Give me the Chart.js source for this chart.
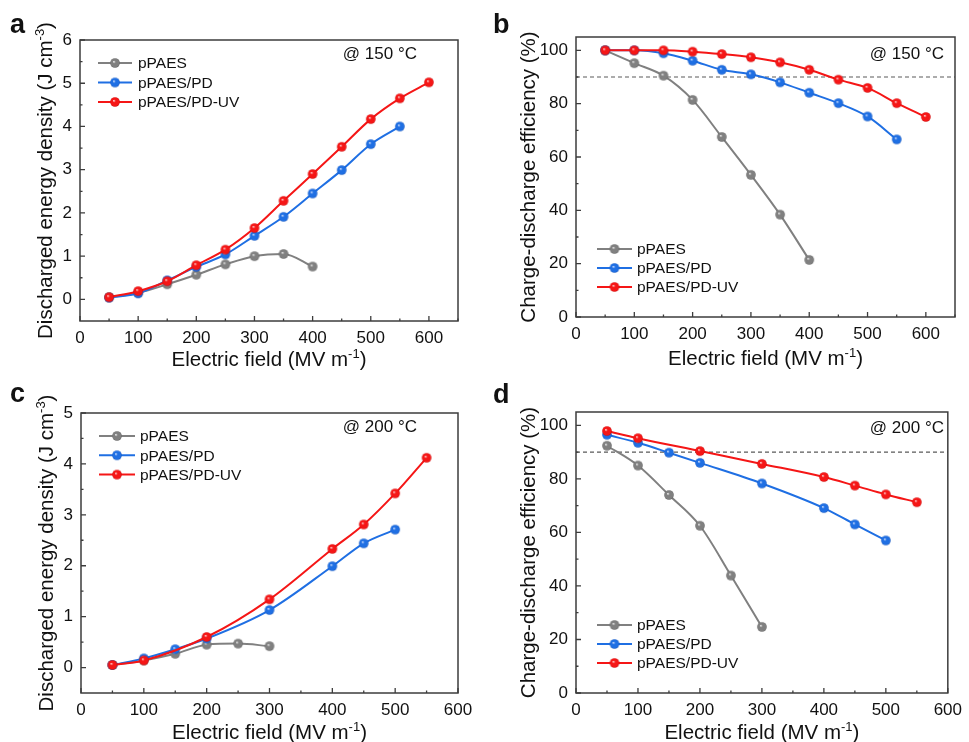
<!DOCTYPE html>
<html><head><meta charset="utf-8">
<script src="https://cdn.jsdelivr.net/npm/chart.js@4"></script>
<style>
body{margin:0;background:#fff;width:969px;height:742px;position:relative;overflow:hidden}
canvas{position:absolute}
</style></head><body>
<canvas id="ca" width="484" height="370" style="left:0;top:0"></canvas>
<canvas id="cb" width="484" height="370" style="left:485px;top:0"></canvas>
<canvas id="cc" width="484" height="372" style="left:0;top:370px"></canvas>
<canvas id="cd" width="484" height="372" style="left:485px;top:370px"></canvas>
<script>
// ---------- data ----------
const seriesNames = ['pPAES', 'pPAES/PD', 'pPAES/PD-UV'];
const xTicks = [0, 100, 200, 300, 400, 500, 600];
const yTicksEnergyA = [0, 1, 2, 3, 4, 5, 6];
const yTicksEnergyC = [0, 1, 2, 3, 4, 5];
const yTicksEff = [0, 20, 40, 60, 80, 100];

// Panel a: discharged energy density @150 °C
const fieldA_pPAES = [50, 100, 150, 200, 250, 300, 350, 400];
const energyA_pPAES = [0.05, 0.15, 0.35, 0.57, 0.81, 1.00, 1.05, 0.76];
const fieldA_PD = [50, 100, 150, 200, 250, 300, 350, 400, 450, 500, 550];
const energyA_PD = [0.04, 0.14, 0.44, 0.75, 1.04, 1.47, 1.91, 2.45, 2.99, 3.59, 4.00];
const fieldA_UV = [50, 100, 150, 200, 250, 300, 350, 400, 450, 500, 550, 600];
const energyA_UV = [0.05, 0.19, 0.42, 0.79, 1.15, 1.65, 2.28, 2.90, 3.53, 4.17, 4.65, 5.02];

// Panel b: charge-discharge efficiency @150 °C
const fieldB_pPAES = [50, 100, 150, 200, 250, 300, 350, 400];
const effB_pPAES = [100, 95.2, 90.5, 81.4, 67.5, 53.3, 38.4, 21.4];
const fieldB_PD = [50, 100, 150, 200, 250, 300, 350, 400, 450, 500, 550];
const effB_PD = [100, 100, 98.9, 96.1, 92.7, 91.0, 88.0, 84.1, 80.2, 75.2, 66.6];
const fieldB_UV = [50, 100, 150, 200, 250, 300, 350, 400, 450, 500, 550, 600];
const effB_UV = [100, 100, 100, 99.5, 98.6, 97.4, 95.5, 92.7, 89.0, 85.9, 80.2, 75.0];

// Panel c: discharged energy density @200 °C
const fieldC_pPAES = [50, 100, 150, 200, 250, 300];
const energyC_pPAES = [0.05, 0.14, 0.27, 0.45, 0.47, 0.42];
const fieldC_PD = [50, 100, 150, 200, 300, 400, 450, 500];
const energyC_PD = [0.05, 0.18, 0.36, 0.57, 1.13, 1.99, 2.44, 2.71];
const fieldC_UV = [50, 100, 200, 300, 400, 450, 500, 550];
const energyC_UV = [0.05, 0.14, 0.60, 1.34, 2.33, 2.81, 3.42, 4.12];

// Panel d: charge-discharge efficiency @200 °C
const fieldD_pPAES = [50, 100, 150, 200, 250, 300];
const effD_pPAES = [92.4, 85.0, 74.0, 62.5, 43.9, 24.7];
const fieldD_PD = [50, 100, 150, 200, 300, 400, 450, 500];
const effD_PD = [96.5, 93.5, 89.8, 86.0, 78.3, 69.1, 63.0, 57.0];
const fieldD_UV = [50, 100, 200, 300, 400, 450, 500, 550];
const effD_UV = [97.9, 95.2, 90.4, 85.6, 80.7, 77.5, 74.2, 71.3];

const efficiencyThreshold = 90;

// ---------- styling ----------
const FAM = '"Liberation Sans", Arial, sans-serif';
const COLORS = ['#808080', '#1f6fe3', '#f51616'];
const DARK = ['#5e5e5e', '#1452b8', '#c80a0a'];
const LIGHT = ['#e8e8e8', '#cfe0ff', '#ffd0d0'];

function sphere(i) {
  const c = document.createElement('canvas');
  c.width = 12; c.height = 12;
  const g = c.getContext('2d');
  const grad = g.createRadialGradient(4.8, 4.6, 0.2, 6, 6, 5);
  grad.addColorStop(0, LIGHT[i]);
  grad.addColorStop(0.3, COLORS[i]);
  grad.addColorStop(0.8, COLORS[i]);
  grad.addColorStop(1, DARK[i]);
  g.fillStyle = grad;
  g.beginPath(); g.arc(6, 6, 4.8, 0, Math.PI * 2); g.fill();
  return c;
}
const SPHERES = [sphere(0), sphere(1), sphere(2)];

function pts(xs, ys) { return xs.map((x, i) => ({ x: x, y: ys[i] })); }

function drawRich(ctx, parts, size, x, y, rot) {
  ctx.save();
  ctx.translate(x, y);
  if (rot) ctx.rotate(-Math.PI / 2);
  ctx.fillStyle = '#111';
  ctx.textAlign = 'left';
  ctx.textBaseline = 'alphabetic';
  const sup = Math.round(size * 0.62);
  let total = 0;
  const ws = parts.map(p => { ctx.font = (p.sup ? sup : size) + 'px ' + FAM; const w = ctx.measureText(p.t).width; total += w; return w; });
  let cx = -total / 2;
  const base = size * 0.36;
  parts.forEach((p, i) => {
    ctx.font = (p.sup ? sup : size) + 'px ' + FAM;
    ctx.fillText(p.t, cx, p.sup ? base - size * 0.42 : base);
    cx += ws[i];
  });
  ctx.restore();
}

const decor = {
  id: 'decor',
  beforeDatasetsDraw(chart) {
    const o = chart.options.plugins.decor;
    const ctx = chart.ctx, a = chart.chartArea, ys = chart.scales.y;
    if (o.threshold != null) {
      const py = ys.getPixelForValue(o.threshold);
      ctx.save();
      ctx.strokeStyle = '#5a5a5a'; ctx.lineWidth = 1.2; ctx.setLineDash([4, 3]);
      ctx.beginPath(); ctx.moveTo(a.left, py); ctx.lineTo(a.right, py); ctx.stroke();
      ctx.restore();
    }
  },
  afterDraw(chart) {
    const o = chart.options.plugins.decor;
    const ctx = chart.ctx, a = chart.chartArea, xs = chart.scales.x, ys = chart.scales.y;
    ctx.save();
    ctx.strokeStyle = '#3c3c3c'; ctx.lineWidth = 1.5;
    ctx.strokeRect(a.left, a.top, a.right - a.left, a.bottom - a.top);
    ctx.lineWidth = 1.3;
    ctx.beginPath();
    for (let v = xs.min; v <= xs.max + 1e-9; v += 50) {
      const px = xs.getPixelForValue(v);
      const major = Math.abs(v % 100) < 1e-6;
      ctx.moveTo(px, a.bottom); ctx.lineTo(px, a.bottom - (major ? 5 : 2.5));
    }
    const step = o.yStep;
    for (let v = o.yTicks[0]; v <= ys.max + 1e-9; v += step / 2) {
      const py = ys.getPixelForValue(v);
      const major = Math.abs((v / step) - Math.round(v / step)) < 1e-6;
      ctx.moveTo(a.left, py); ctx.lineTo(a.left + (major ? 5 : 2.5), py);
    }
    ctx.stroke();
    // axis titles
    drawRich(ctx, [{ t: 'Electric field (MV m' }, { t: '-1', sup: true }, { t: ')' }], 20.5, (a.left + a.right) / 2, o.xTitleY, false);
    drawRich(ctx, o.yTitle, 20.5, o.yTitleX, (a.top + a.bottom) / 2, true);
    // panel letter
    ctx.fillStyle = '#111';
    ctx.font = 'bold 27px ' + FAM;
    ctx.textAlign = 'left'; ctx.textBaseline = 'alphabetic';
    ctx.fillText(o.letter, o.letterX, o.letterY);
    // temperature note
    ctx.font = '17px ' + FAM;
    ctx.textAlign = 'right'; ctx.textBaseline = 'middle';
    ctx.fillText(o.note, o.noteX, o.noteY);
    // legend
    const L = o.legend;
    chart.data.datasets.forEach((ds, i) => {
      const y = L.y + i * L.dy;
      ctx.strokeStyle = ds.borderColor; ctx.lineWidth = 2;
      ctx.beginPath(); ctx.moveTo(L.x0, y); ctx.lineTo(L.x1, y); ctx.stroke();
      ctx.drawImage(SPHERES[i], (L.x0 + L.x1) / 2 - 6, y - 6);
      ctx.fillStyle = '#111'; ctx.font = '15.5px ' + FAM;
      ctx.textAlign = 'left'; ctx.textBaseline = 'middle';
      ctx.fillText(ds.label, L.tx, y + 1);
    });
    ctx.restore();
  }
};

function makeChart(id, p) {
  const datasets = p.series.map((s, i) => ({
    label: seriesNames[i],
    data: pts(s[0], s[1]),
    order: 2 - i,
    borderColor: COLORS[i],
    backgroundColor: COLORS[i],
    borderWidth: 2,
    pointStyle: SPHERES[i],
    pointRadius: 6,
    cubicInterpolationMode: 'monotone',
    clip: 8
  }));
  return new Chart(document.getElementById(id), {
    type: 'line',
    data: { datasets },
    plugins: [decor],
    options: {
      responsive: false, animation: false, events: [],
      layout: { padding: { top: p.top, right: p.right, left: 0, bottom: 0 } },
      plugins: {
        legend: { display: false }, tooltip: { enabled: false },
        decor: p.decor
      },
      scales: {
        x: {
          type: 'linear', min: 0, max: p.xMax,
          grid: { display: false, drawTicks: false }, border: { display: false },
          ticks: { font: { size: 17, family: FAM }, color: '#111', padding: 7, maxRotation: 0 },
          afterBuildTicks: sc => { sc.ticks = xTicks.filter(v => v <= p.xMax).map(v => ({ value: v })); },
          afterFit: sc => { sc.height = p.bottom; }
        },
        y: {
          type: 'linear', min: p.yMin, max: p.yMax,
          grid: { display: false, drawTicks: false }, border: { display: false },
          ticks: { font: { size: 17, family: FAM }, color: '#111', padding: 8 },
          afterBuildTicks: sc => { sc.ticks = p.yTicks.map(v => ({ value: v })); },
          afterFit: sc => { sc.width = p.left; }
        }
      }
    }
  });
}

const energyTitle = [{ t: 'Discharged energy density (J cm' }, { t: '-3', sup: true }, { t: ')' }];
const effTitle = [{ t: 'Charge-discharge efficiency (%)' }];

makeChart('ca', {
  series: [[fieldA_pPAES, energyA_pPAES], [fieldA_PD, energyA_PD], [fieldA_UV, energyA_UV]],
  top: 40, right: 26, left: 80, bottom: 49, xMax: 650, yMin: -0.5, yMax: 6, yTicks: yTicksEnergyA,
  decor: { yTicks: yTicksEnergyA, yStep: 1, letter: 'a', letterX: 10, letterY: 33, note: '@ 150 °C', noteX: 417, noteY: 54,
    xTitleY: 359, yTitle: energyTitle, yTitleX: 45, legend: { x0: 98, x1: 132, tx: 138, y: 63, dy: 19.5 } }
});
makeChart('cb', {
  series: [[fieldB_pPAES, effB_pPAES], [fieldB_PD, effB_PD], [fieldB_UV, effB_UV]],
  top: 37, right: 14, left: 91, bottom: 53, xMax: 650, yMin: 0, yMax: 105, yTicks: yTicksEff,
  decor: { threshold: efficiencyThreshold, yTicks: yTicksEff, yStep: 20, letter: 'b', letterX: 8, letterY: 33, note: '@ 150 °C', noteX: 459, noteY: 54,
    xTitleY: 358, yTitle: effTitle, yTitleX: 43, legend: { x0: 112, x1: 147, tx: 152, y: 249, dy: 19 } }
});
makeChart('cc', {
  series: [[fieldC_pPAES, energyC_pPAES], [fieldC_PD, energyC_PD], [fieldC_UV, energyC_UV]],
  top: 43, right: 26, left: 81, bottom: 49, xMax: 600, yMin: -0.5, yMax: 5, yTicks: yTicksEnergyC,
  decor: { yTicks: yTicksEnergyC, yStep: 1, letter: 'c', letterX: 10, letterY: 32, note: '@ 200 °C', noteX: 417, noteY: 57,
    xTitleY: 362, yTitle: energyTitle, yTitleX: 46, legend: { x0: 99, x1: 135, tx: 140, y: 66, dy: 19.3 } }
});
makeChart('cd', {
  series: [[fieldD_pPAES, effD_pPAES], [fieldD_PD, effD_PD], [fieldD_UV, effD_UV]],
  top: 42, right: 14, left: 91, bottom: 49, xMax: 600, yMin: 0, yMax: 105, yTicks: yTicksEff,
  decor: { threshold: efficiencyThreshold, yTicks: yTicksEff, yStep: 20, letter: 'd', letterX: 8, letterY: 33, note: '@ 200 °C', noteX: 459, noteY: 58,
    xTitleY: 362, yTitle: effTitle, yTitleX: 43, legend: { x0: 112, x1: 147, tx: 152, y: 255, dy: 19 } }
});
</script>
</body></html>
